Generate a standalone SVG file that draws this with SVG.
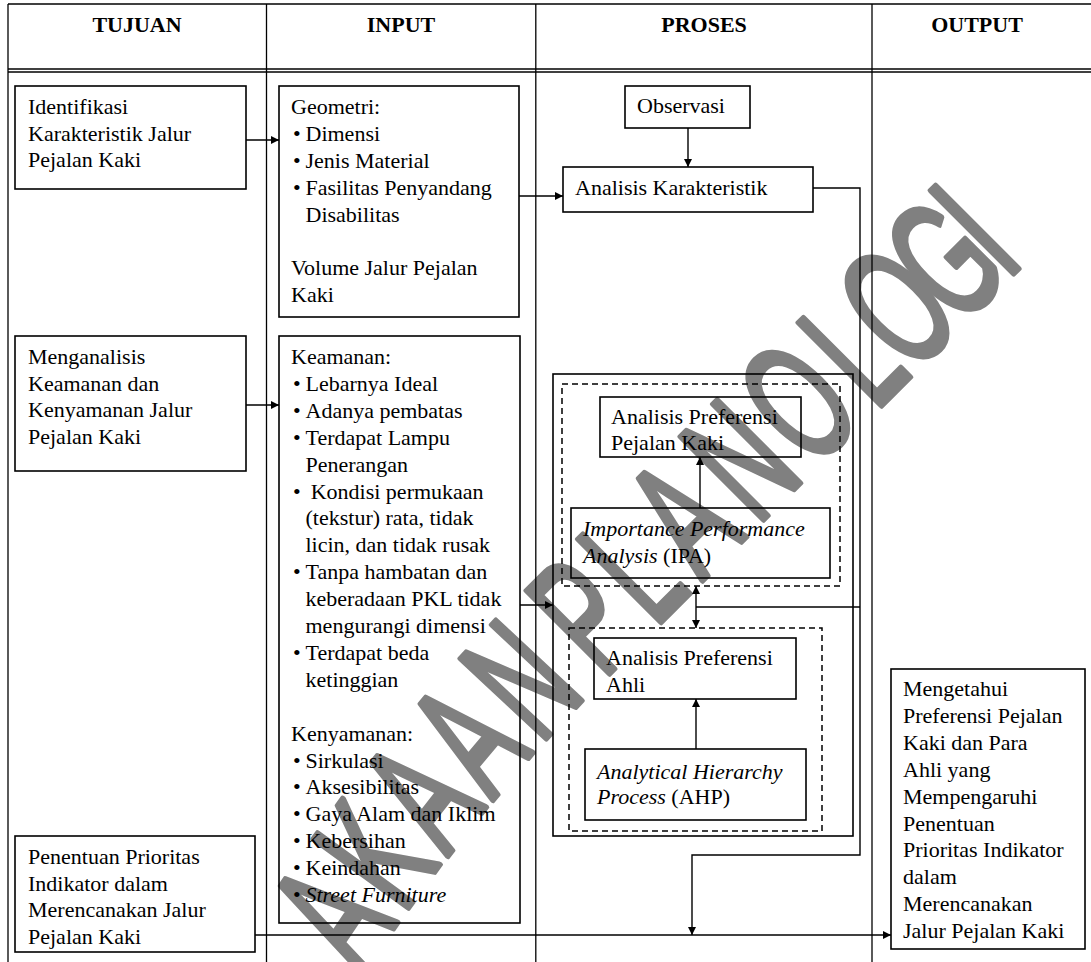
<svg xmlns="http://www.w3.org/2000/svg" width="1091" height="962" viewBox="0 0 1091 962">
<defs>
<marker id="ah" viewBox="0 0 10 10" refX="10" refY="5" markerWidth="9" markerHeight="8" markerUnits="userSpaceOnUse" orient="auto-start-reverse">
<path d="M0,0 L10,5 L0,10 z" fill="#000"/>
</marker>
<style>
.t{font-family:"Liberation Serif","Times New Roman",serif;font-size:22px;fill:#000}
.h{font-family:"Liberation Serif","Times New Roman",serif;font-size:22px;font-weight:bold;text-anchor:middle;fill:#000}
.i{font-style:italic}
.b{fill:none;stroke:#000;stroke-width:1.6}
.d{fill:none;stroke:#000;stroke-width:1.5;stroke-dasharray:6 4}
.g{fill:none;stroke:#000;stroke-width:1.3}
.c{fill:none;stroke:#000;stroke-width:1.4}
.a{marker-end:url(#ah)}
.wm{font-family:"Liberation Sans",Arial,sans-serif;font-weight:normal;font-size:170px;fill:#808080;stroke:#808080;stroke-width:6;stroke-linejoin:round}
</style>
</defs>
<rect x="0" y="0" width="1091" height="962" fill="#fff"/>

<g id="watermark">
<text class="wm" transform="translate(362,975) rotate(-56) scale(0.57,1)">A</text>
<text class="wm" transform="translate(403,915) rotate(-54) scale(0.57,1)">K</text>
<text class="wm" transform="translate(447,857) rotate(-52) scale(0.57,1)">A</text>
<text class="wm" transform="translate(492,801) rotate(-50) scale(0.57,1)">A</text>
<text class="wm" transform="translate(540,745) rotate(-47) scale(0.57,1)">N</text>
<text class="wm" transform="translate(603,680) rotate(-45) scale(0.57,1)">P</text>
<text class="wm" transform="translate(654.4,628.6) rotate(-45) scale(0.57,1)">L</text>
<text class="wm" transform="translate(701.5,581.5) rotate(-45) scale(0.57,1)">A</text>
<text class="wm" transform="translate(757.1,525.9) rotate(-45) scale(0.57,1)">N</text>
<text class="wm" transform="translate(812.8,470.2) rotate(-45) scale(0.57,1)">O</text>
<text class="wm" transform="translate(875,412) rotate(-45) scale(0.57,1)">L</text>
<text class="wm" transform="translate(912,375) rotate(-45) scale(0.57,1)">O</text>
<text class="wm" transform="translate(959.3,327.7) rotate(-45) scale(0.57,1)">G</text>
<text class="wm" transform="translate(1006.6,280.4) rotate(-45) scale(0.57,1)">I</text>
</g>

<g id="table">
<line class="g" x1="8" y1="4" x2="1091" y2="4"/>
<line class="g" x1="8" y1="69" x2="1091" y2="69"/>
<line class="g" x1="8" y1="72" x2="1091" y2="72"/>
<line class="g" x1="8" y1="4" x2="8" y2="962"/>
<line class="g" x1="266.5" y1="4" x2="266.5" y2="962"/>
<line class="g" x1="535.8" y1="4" x2="535.8" y2="962"/>
<line class="g" x1="872" y1="4" x2="872" y2="962"/>
<text class="h" x="137" y="31.5">TUJUAN</text>
<text class="h" x="401" y="31.5">INPUT</text>
<text class="h" x="704" y="31.5">PROSES</text>
<text class="h" x="977" y="31.5">OUTPUT</text>
</g>

<g id="connectors">
<line class="c a" x1="246" y1="140" x2="279" y2="140"/>
<line class="c a" x1="246" y1="405" x2="279" y2="405"/>
<line class="c a" x1="519" y1="196" x2="563" y2="196"/>
<line class="c a" x1="688" y1="128" x2="688" y2="167"/>
<line class="c a" x1="520" y1="605" x2="553" y2="605"/>
<line class="c a" x1="700" y1="508" x2="700" y2="457"/>
<line class="c a" x1="696" y1="749" x2="696" y2="699"/>
<line class="c a" x1="696" y1="607" x2="696" y2="586"/>
<line class="c a" x1="696" y1="607" x2="696" y2="628"/>
<line class="c" x1="696" y1="607" x2="860" y2="607"/>
<polyline class="c a" points="813,188 860,188 860,855 692,855 692,935"/>
<line class="c a" x1="255" y1="935" x2="891" y2="935"/>
</g>

<g id="n-tujuan1">
<rect class="b" x="15" y="86" width="231" height="103"/>
<text class="t"><tspan x="28" y="114">Identifikasi</tspan><tspan x="28" y="140.7">Karakteristik Jalur</tspan><tspan x="28" y="167.4">Pejalan Kaki</tspan></text>
</g>
<g id="n-tujuan2">
<rect class="b" x="15" y="336" width="231" height="135"/>
<text class="t"><tspan x="28" y="364">Menganalisis</tspan><tspan x="28" y="390.7">Keamanan dan</tspan><tspan x="28" y="417.4">Kenyamanan Jalur</tspan><tspan x="28" y="444.1">Pejalan Kaki</tspan></text>
</g>
<g id="n-tujuan3">
<rect class="b" x="15" y="836" width="240" height="116"/>
<text class="t"><tspan x="28" y="864">Penentuan Prioritas</tspan><tspan x="28" y="890.7">Indikator dalam</tspan><tspan x="28" y="917.4">Merencanakan Jalur</tspan><tspan x="28" y="944.1">Pejalan Kaki</tspan></text>
</g>

<g id="n-geometri">
<rect class="b" x="279" y="86" width="240" height="231"/>
<text class="t">
<tspan x="291" y="114">Geometri:</tspan>
<tspan x="293" y="140.9">•</tspan><tspan x="305.5" y="140.9">Dimensi</tspan>
<tspan x="293" y="167.8">•</tspan><tspan x="305.5" y="167.8">Jenis Material</tspan>
<tspan x="293" y="194.7">•</tspan><tspan x="305.5" y="194.7">Fasilitas Penyandang</tspan>
<tspan x="305.5" y="221.6">Disabilitas</tspan>
<tspan x="291" y="275.4">Volume Jalur Pejalan</tspan>
<tspan x="291" y="302.3">Kaki</tspan>
</text>
</g>

<g id="n-keamanan">
<rect class="b" x="279" y="336" width="241" height="587"/>
<text class="t">
<tspan x="291" y="364">Keamanan:</tspan>
<tspan x="293" y="390.9">•</tspan><tspan x="305.5" y="390.9">Lebarnya Ideal</tspan>
<tspan x="293" y="417.8">•</tspan><tspan x="305.5" y="417.8">Adanya pembatas</tspan>
<tspan x="293" y="444.7">•</tspan><tspan x="305.5" y="444.7">Terdapat Lampu</tspan>
<tspan x="305.5" y="471.6">Penerangan</tspan>
<tspan x="293" y="498.5">•</tspan><tspan x="310.7" y="498.5">Kondisi permukaan</tspan>
<tspan x="305.5" y="525.4">(tekstur) rata, tidak</tspan>
<tspan x="305.5" y="552.3">licin, dan tidak rusak</tspan>
<tspan x="293" y="579.2">•</tspan><tspan x="305.5" y="579.2">Tanpa hambatan dan</tspan>
<tspan x="305.5" y="606.1">keberadaan PKL tidak</tspan>
<tspan x="305.5" y="633">mengurangi dimensi</tspan>
<tspan x="293" y="659.9">•</tspan><tspan x="305.5" y="659.9">Terdapat beda</tspan>
<tspan x="305.5" y="686.8">ketinggian</tspan>
<tspan x="291" y="740.6">Kenyamanan:</tspan>
<tspan x="293" y="767.5">•</tspan><tspan x="305.5" y="767.5">Sirkulasi</tspan>
<tspan x="293" y="794.4">•</tspan><tspan x="305.5" y="794.4">Aksesibilitas</tspan>
<tspan x="293" y="821.3">•</tspan><tspan x="305.5" y="821.3">Gaya Alam dan Iklim</tspan>
<tspan x="293" y="848.2">•</tspan><tspan x="305.5" y="848.2">Kebersihan</tspan>
<tspan x="293" y="875.1">•</tspan><tspan x="305.5" y="875.1">Keindahan</tspan>
<tspan x="293" y="902">•</tspan><tspan x="305.5" y="902" class="i">Street Furniture</tspan>
</text>
</g>

<g id="n-observasi">
<rect class="b" x="625" y="86" width="125" height="42"/>
<text class="t" x="637" y="113">Observasi</text>
</g>
<g id="n-analisis-karakteristik">
<rect class="b" x="563" y="167" width="250" height="45"/>
<text class="t" x="575" y="195">Analisis Karakteristik</text>
</g>

<g id="n-preferensi-group">
<rect class="b" x="553" y="374" width="300" height="462"/>
<rect class="d" x="562" y="384" width="278" height="202"/>
<rect class="d" x="569" y="628" width="253" height="203"/>
</g>
<g id="n-preferensi-pejalan">
<rect class="b" x="600" y="397" width="201" height="60"/>
<text class="t"><tspan x="611" y="424">Analisis Preferensi</tspan><tspan x="611" y="450">Pejalan Kaki</tspan></text>
</g>
<g id="n-ipa">
<rect class="b" x="571" y="508" width="259" height="70"/>
<text class="t"><tspan x="583" y="536" class="i">Importance Performance</tspan><tspan x="583" y="562.7" class="i">Analysis</tspan><tspan> (IPA)</tspan></text>
</g>
<g id="n-preferensi-ahli">
<rect class="b" x="594" y="638" width="202" height="61"/>
<text class="t"><tspan x="606" y="665">Analisis Preferensi</tspan><tspan x="606" y="692">Ahli</tspan></text>
</g>
<g id="n-ahp">
<rect class="b" x="585" y="749" width="221" height="71"/>
<text class="t"><tspan x="597" y="778.7" class="i">Analytical Hierarchy</tspan><tspan x="597" y="803.7" class="i">Process</tspan><tspan> (AHP)</tspan></text>
</g>

<g id="n-output">
<rect class="b" x="891" y="669" width="194" height="280"/>
<text class="t">
<tspan x="903" y="696">Mengetahui</tspan>
<tspan x="903" y="722.9">Preferensi Pejalan</tspan>
<tspan x="903" y="749.8">Kaki dan Para</tspan>
<tspan x="903" y="776.7">Ahli yang</tspan>
<tspan x="903" y="803.6">Mempengaruhi</tspan>
<tspan x="903" y="830.5">Penentuan</tspan>
<tspan x="903" y="857.4">Prioritas Indikator</tspan>
<tspan x="903" y="884.3">dalam</tspan>
<tspan x="903" y="911.2">Merencanakan</tspan>
<tspan x="903" y="938.1">Jalur Pejalan Kaki</tspan>
</text>
</g>
</svg>
